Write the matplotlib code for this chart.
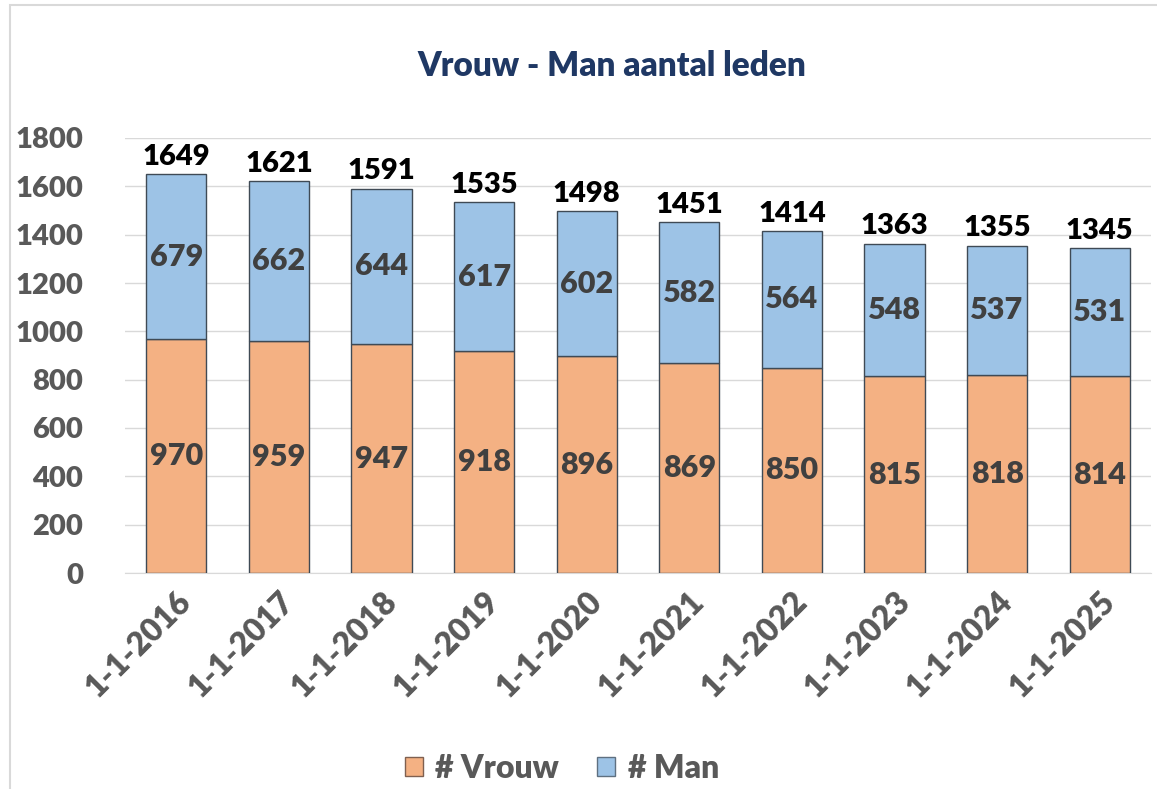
import matplotlib
matplotlib.use("Agg")
import matplotlib.pyplot as plt
from matplotlib.patches import Rectangle, Patch
import numpy as np

categories = ["1-1-2016", "1-1-2017", "1-1-2018", "1-1-2019", "1-1-2020",
              "1-1-2021", "1-1-2022", "1-1-2023", "1-1-2024", "1-1-2025"]
vrouw = [970, 959, 947, 918, 896, 869, 850, 815, 818, 814]
man = [679, 662, 644, 617, 602, 582, 564, 548, 537, 531]
totals = [1649, 1621, 1591, 1535, 1498, 1451, 1414, 1363, 1355, 1345]
yticks = [0, 200, 400, 600, 800, 1000, 1200, 1400, 1600, 1800]

plt.rcParams['font.family'] = ['Lato', 'DejaVu Sans']
WT = 'heavy'

W, H = 1157, 789
fig = plt.figure(figsize=(W / 100, H / 100), dpi=100)
fig.patches.append(Rectangle((10 / W, -0.01), 1.2, 1 - 5 / H + 0.01,
                             transform=fig.transFigure, fill=False,
                             edgecolor='#d9d9d9', linewidth=1.5))

ax = fig.add_axes([125 / W, 1 - 573 / H, (1151 - 125) / W, (573 - 138) / H])
x = np.arange(len(categories))
c_v = '#F4B183'
c_m = '#9DC3E6'
edge = '#3f4a55'
bw = 0.585
ax.bar(x, vrouw, width=bw, color=c_v, edgecolor=edge, linewidth=1.0, zorder=3)
ax.bar(x, man, width=bw, bottom=vrouw, color=c_m, edgecolor=edge, linewidth=1.0, zorder=3)

lab_col = '#404040'
for i in range(len(x)):
    ax.text(x[i], vrouw[i] / 2, str(vrouw[i]), ha='center', va='center',
            fontsize=22, fontweight=WT, color=lab_col, zorder=4)
    ax.text(x[i], vrouw[i] + man[i] / 2, str(man[i]), ha='center', va='center',
            fontsize=22, fontweight=WT, color=lab_col, zorder=4)
    ax.annotate(str(totals[i]), (x[i], totals[i]), xytext=(0, 3),
                textcoords='offset points', ha='center', va='bottom',
                fontsize=21, fontweight=WT, color='black', zorder=4)

ax.set_xlim(-0.5, len(x) - 0.5)
ax.set_ylim(0, 1800)
ax.set_yticks(yticks)
ax.set_yticklabels([str(t) for t in yticks], fontsize=21, fontweight=WT, color='#595959')
ax.set_xticks(x)
ax.set_xticklabels(categories, rotation=45, ha='right', rotation_mode='anchor',
                   fontsize=23, fontweight=WT, color='#595959')
ax.tick_params(axis='both', length=0, pad=10)
ax.tick_params(axis='y', pad=30)
ax.grid(axis='y', color='#d9d9d9', linewidth=1, zorder=0)
for s in ['top', 'right', 'left']:
    ax.spines[s].set_visible(False)
ax.spines['bottom'].set_color('#d9d9d9')
ax.spines['bottom'].set_zorder(1)

fig.text(612 / W, 1 - 66 / H, "Vrouw - Man aantal leden", ha='center', va='center',
         fontsize=24, fontweight=WT, color='#1F3864')

handles = [Patch(facecolor=c_v, edgecolor='#7f6050', label='# Vrouw'),
           Patch(facecolor=c_m, edgecolor='#5f7080', label='# Man')]
fig.legend(handles=handles, loc='center', bbox_to_anchor=(562 / W, 1 - 768 / H),
           ncol=2, frameon=False, handlelength=0.55, handleheight=0.55,
           handletextpad=0.4, columnspacing=1.2,
           prop={'weight': WT, 'size': 23})
for t in fig.legends[0].get_texts():
    t.set_color('#595959')

fig.savefig('out.png', dpi=100, facecolor='white')
